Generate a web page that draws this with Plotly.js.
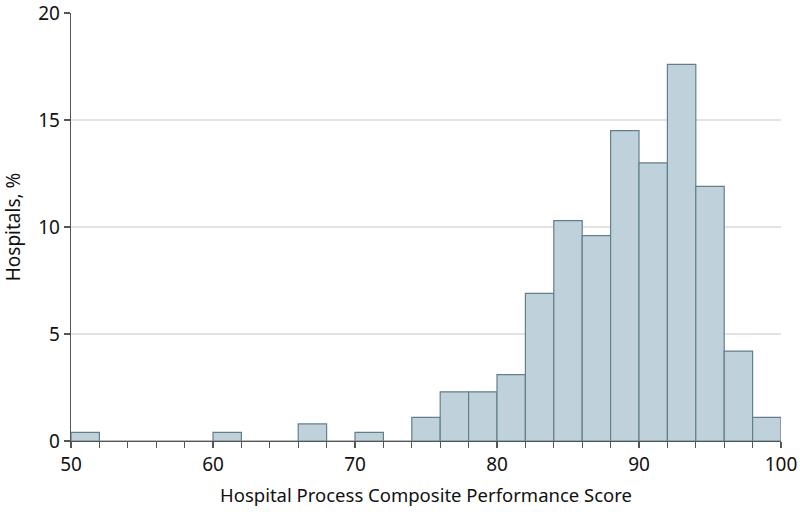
<!DOCTYPE html>
<html>
<head>
<meta charset="utf-8">
<script src="https://cdn.plot.ly/plotly-3.0.1.min.js"></script>
<style>html,body{margin:0;padding:0;background:#fff;}#chart{width:800px;height:512px;}</style>
</head>
<body>
<div id="chart"></div>
<script>
const binStart = [50, 52, 54, 56, 58, 60, 62, 64, 66, 68, 70, 72, 74, 76, 78, 80, 82, 84, 86, 88, 90, 92, 94, 96, 98];
const hospitalsPct = [0.4, 0, 0, 0, 0, 0.4, 0, 0, 0.8, 0, 0.4, 0, 1.1, 2.3, 2.3, 3.1, 6.9, 10.3, 9.6, 14.5, 13.0, 17.6, 11.9, 4.2, 1.1];
const xTickVals = [50,52,54,56,58,60,62,64,66,68,70,72,74,76,78,80,82,84,86,88,90,92,94,96,98,100];
const xTickText = ["50","","","","","60","","","","","70","","","","","80","","","","","90","","","","","100"];
const yTickVals = [0, 5, 10, 15, 20];

const fontFam = "Noto Sans, sans-serif";
const trace = {
  type: 'bar',
  x: binStart,
  y: hospitalsPct,
  width: 2,
  offset: 0,
  marker: {color: 'rgb(191,210,219)', line: {color: 'rgb(96,128,140)', width: 1.2}},
  hoverinfo: 'x+y'
};
const layout = {
  width: 800, height: 512,
  margin: {l: 71, r: 19, t: 13, b: 71},
  paper_bgcolor: '#fff', plot_bgcolor: '#fff',
  showlegend: false,
  bargap: 0,
  font: {family: fontFam, color: '#111'},
  xaxis: {
    range: [50, 100],
    tickmode: 'array', tickvals: xTickVals, ticktext: xTickText,
    ticks: 'outside', ticklen: 6, tickwidth: 1.3, tickcolor: '#555',
    showline: true, linecolor: '#555', linewidth: 1.3,
    showgrid: false, zeroline: false,
    ticklabeloverflow: 'allow',
    tickfont: {size: 19, family: fontFam, color: '#111'},
    title: {text: 'Hospital Process Composite Performance Score', font: {size: 18.5, family: fontFam, color: '#111'}, standoff: 13}
  },
  yaxis: {
    range: [0, 20],
    tickmode: 'array', tickvals: yTickVals,
    ticks: 'outside', ticklen: 6, tickwidth: 1.3, tickcolor: '#555',
    showline: true, linecolor: '#555', linewidth: 1.3,
    showgrid: true, gridcolor: '#e3e3e3', gridwidth: 1.3,
    zeroline: false,
    ticklabeloverflow: 'allow',
    tickfont: {size: 19, family: fontFam, color: '#111'},
    title: {text: 'Hospitals, %', font: {size: 19, family: fontFam, color: '#111'}, standoff: 12}
  }
};
Plotly.newPlot('chart', [trace], layout, {displayModeBar: false, staticPlot: true});
</script>
</body>
</html>
